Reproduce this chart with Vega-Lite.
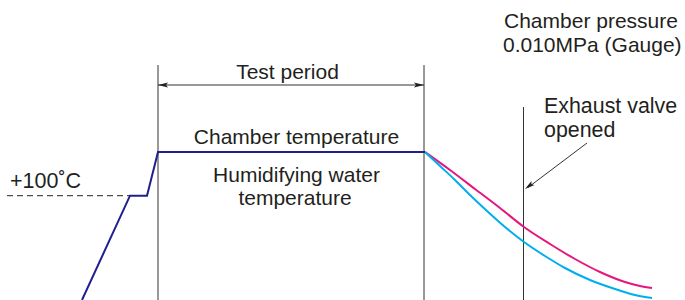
{
  "$schema": "https://vega.github.io/schema/vega-lite/v6.json",
  "width": 685,
  "height": 300,
  "autosize": {"type": "none"},
  "padding": 0,
  "background": "white",
  "config": {"view": {"stroke": null}},
  "datasets": {
    "blue": [
      {"t": 82, "v": 0}, {"t": 130, "v": 104.3}, {"t": 147, "v": 104.3}, {"t": 158, "v": 148}, {"t": 425, "v": 148}
    ],
    "curves": [
      {"s": "Chamber temperature", "t": 425, "v": 148}, {"s": "Chamber temperature", "t": 450, "v": 130}, {"s": "Chamber temperature", "t": 475, "v": 111},
      {"s": "Chamber temperature", "t": 500, "v": 92}, {"s": "Chamber temperature", "t": 524, "v": 73}, {"s": "Chamber temperature", "t": 550, "v": 56},
      {"s": "Chamber temperature", "t": 575, "v": 41}, {"s": "Chamber temperature", "t": 600, "v": 28}, {"s": "Chamber temperature", "t": 625, "v": 18},
      {"s": "Chamber temperature", "t": 640, "v": 14}, {"s": "Chamber temperature", "t": 652, "v": 12},
      {"s": "Humidifying water temperature", "t": 425, "v": 148}, {"s": "Humidifying water temperature", "t": 440, "v": 134}, {"s": "Humidifying water temperature", "t": 455, "v": 120},
      {"s": "Humidifying water temperature", "t": 470, "v": 105}, {"s": "Humidifying water temperature", "t": 487, "v": 89}, {"s": "Humidifying water temperature", "t": 505, "v": 73},
      {"s": "Humidifying water temperature", "t": 524, "v": 58}, {"s": "Humidifying water temperature", "t": 545, "v": 44}, {"s": "Humidifying water temperature", "t": 565, "v": 32},
      {"s": "Humidifying water temperature", "t": 590, "v": 20}, {"s": "Humidifying water temperature", "t": 615, "v": 11}, {"s": "Humidifying water temperature", "t": 635, "v": 5},
      {"s": "Humidifying water temperature", "t": 652, "v": 2}
    ],
    "rules": [
      {"t": 158, "v": 0, "t2": 158, "v2": 235},
      {"t": 424, "v": 0, "t2": 424, "v2": 235},
      {"t": 523.5, "v": 0, "t2": 523.5, "v2": 193},
      {"t": 158, "v": 215, "t2": 424, "v2": 215},
      {"t": 587, "v": 157, "t2": 528, "v2": 112.5}
    ],
    "dashed": [
      {"t": 7, "v": 104.3, "t2": 130, "v2": 104.3}
    ],
    "heads": [
      {"t": 158, "v": 215, "a": 180},
      {"t": 424, "v": 215, "a": 0},
      {"t": 525, "v": 111, "a": 143}
    ],
    "pressure": [
      {"txt": "Chamber pressure", "t": 504, "v": 272.5},
      {"txt": "0.010MPa (Gauge)", "t": 503, "v": 248}
    ],
    "valve": [
      {"txt": "Exhaust valve", "t": 544, "v": 187},
      {"txt": "opened", "t": 544, "v": 163}
    ],
    "level": [
      {"txt": "+100˚C", "t": 10, "v": 112}
    ],
    "clabels": [
      {"txt": "Test period", "t": 287.5, "v": 221},
      {"txt": "Chamber temperature", "t": 296.5, "v": 156},
      {"txt": "Humidifying water", "t": 296.5, "v": 118},
      {"txt": "temperature", "t": 295, "v": 95}
    ]
  },
  "layer": [
    {
      "data": {"name": "rules"},
      "mark": {"type": "rule", "color": "#333333", "strokeWidth": 1},
      "encoding": {
        "x": {"field": "t", "type": "quantitative", "scale": {"domain": [0, 685], "nice": false, "zero": false}, "axis": null},
        "y": {"field": "v", "type": "quantitative", "scale": {"domain": [0, 300], "nice": false, "zero": false}, "axis": null},
        "x2": {"field": "t2"},
        "y2": {"field": "v2"}
      }
    },
    {
      "data": {"name": "dashed"},
      "mark": {"type": "rule", "color": "#222222", "strokeWidth": 1, "strokeDash": [6, 4]},
      "encoding": {
        "x": {"field": "t", "type": "quantitative"},
        "y": {"field": "v", "type": "quantitative"},
        "x2": {"field": "t2"},
        "y2": {"field": "v2"}
      }
    },
    {
      "data": {"name": "heads"},
      "mark": {"type": "point", "shape": "M0,0L-2,-0.5L-1.6,0L-2,0.5Z", "filled": true, "size": 100, "color": "#222222", "opacity": 1, "strokeWidth": 0},
      "encoding": {
        "x": {"field": "t", "type": "quantitative"},
        "y": {"field": "v", "type": "quantitative"},
        "angle": {"field": "a", "type": "quantitative", "scale": null}
      }
    },
    {
      "data": {"name": "curves"},
      "mark": {"type": "line", "interpolate": "monotone", "strokeWidth": 2},
      "encoding": {
        "x": {"field": "t", "type": "quantitative"},
        "y": {"field": "v", "type": "quantitative"},
        "color": {"field": "s", "type": "nominal", "scale": {"domain": ["Chamber temperature", "Humidifying water temperature"], "range": ["#e5177e", "#00aeef"]}, "legend": null}
      }
    },
    {
      "data": {"name": "blue"},
      "mark": {"type": "line", "color": "#1f1f8f", "strokeWidth": 2},
      "encoding": {
        "x": {"field": "t", "type": "quantitative"},
        "y": {"field": "v", "type": "quantitative"}
      }
    },
    {
      "data": {"name": "pressure"},
      "mark": {"type": "text", "align": "left", "baseline": "alphabetic", "font": "Liberation Sans", "fontSize": 21, "color": "#231f20"},
      "encoding": {
        "x": {"field": "t", "type": "quantitative"},
        "y": {"field": "v", "type": "quantitative"},
        "text": {"field": "txt"}
      }
    },
    {
      "data": {"name": "valve"},
      "mark": {"type": "text", "align": "left", "baseline": "alphabetic", "font": "Liberation Sans", "fontSize": 21.4, "color": "#231f20"},
      "encoding": {
        "x": {"field": "t", "type": "quantitative"},
        "y": {"field": "v", "type": "quantitative"},
        "text": {"field": "txt"}
      }
    },
    {
      "data": {"name": "level"},
      "mark": {"type": "text", "align": "left", "baseline": "alphabetic", "font": "Liberation Sans", "fontSize": 21.5, "color": "#231f20"},
      "encoding": {
        "x": {"field": "t", "type": "quantitative"},
        "y": {"field": "v", "type": "quantitative"},
        "text": {"field": "txt"}
      }
    },
    {
      "data": {"name": "clabels"},
      "mark": {"type": "text", "align": "center", "baseline": "alphabetic", "font": "Liberation Sans", "fontSize": 21, "color": "#231f20"},
      "encoding": {
        "x": {"field": "t", "type": "quantitative"},
        "y": {"field": "v", "type": "quantitative"},
        "text": {"field": "txt"}
      }
    }
  ]
}
